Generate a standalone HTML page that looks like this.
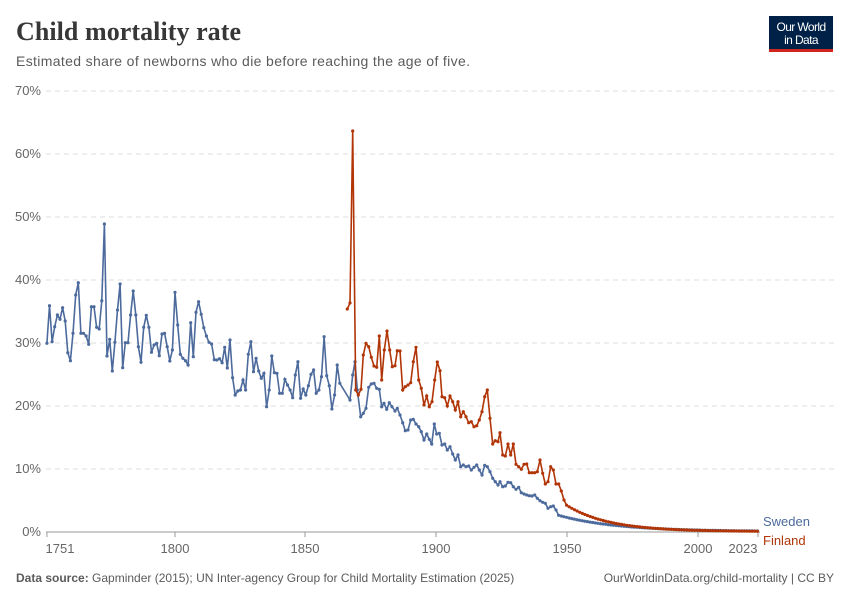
<!DOCTYPE html>
<html><head><meta charset="utf-8"><style>
body{margin:0;background:#fff;width:850px;height:600px;overflow:hidden;font-family:"Liberation Sans",sans-serif}
</style></head><body>
<svg width="850" height="600" xmlns="http://www.w3.org/2000/svg" font-family="Liberation Sans, sans-serif">
<text x="16" y="40" font-family="Liberation Serif, serif" font-size="26" font-weight="bold" fill="#373737" textLength="225">Child mortality rate</text>
<text x="16" y="66" font-size="14" fill="#5b5b5b" textLength="454">Estimated share of newborns who die before reaching the age of five.</text>
<rect x="769" y="16" width="64" height="34" fill="#002147"/>
<rect x="769" y="49" width="64" height="3" fill="#ce261e"/>
<text x="801" y="31" font-size="12" fill="#fff" text-anchor="middle" letter-spacing="-0.6">Our World</text>
<text x="801" y="44" font-size="12" fill="#fff" text-anchor="middle" letter-spacing="-0.6">in Data</text>
<g id="grid" stroke="#dddddd" stroke-dasharray="5,4" stroke-width="1"></g>
<g id="ylab" font-size="13" fill="#666" text-anchor="end"></g>
<line x1="46" y1="532" x2="760" y2="532" stroke="#999" stroke-width="1"/>
<g id="xlab" font-size="13" fill="#666" text-anchor="middle"></g>
<g id="series"></g>
<text x="763" y="526" font-size="13" fill="#4c6a9c">Sweden</text>
<text x="763" y="545" font-size="13" fill="#b13507">Finland</text>
<text x="16" y="582" font-size="12" fill="#5b5b5b"><tspan font-weight="bold">Data source:</tspan> Gapminder (2015); UN Inter-agency Group for Child Mortality Estimation (2025)</text>
<text x="834" y="582" font-size="12" fill="#5b5b5b" text-anchor="end">OurWorldinData.org/child-mortality | CC BY</text>
</svg>
<script>
var NS="http://www.w3.org/2000/svg";
function el(p,t,a,txt){var e=document.createElementNS(NS,t);for(var k in a)e.setAttribute(k,a[k]);if(txt)e.textContent=txt;document.getElementById(p).appendChild(e);}
for(var i=0;i<=7;i++){var y=532-63*i;if(i>0)el("grid","line",{x1:46,y1:y,x2:835,y2:y});el("ylab","text",{x:41,y:y+4},(i*10)+"%");}
[[1751,46.9,60],[1800,175,175],[1850,305,305],[1900,436,436],[1950,567,567],[2000,698,698],[2023,758,743]].forEach(function(d){
el("xlab","text",{x:d[2],y:553},d[0]);el("series","line",{x1:d[1],y1:532,x2:d[1],y2:537,stroke:"#999"});});
var z1=[400,287,395,350,315,328,293,333,428,452,370,255,218,370,370,378,403,290,290,352,357,272,42,438,388,483,397,300,222,473,398,398,315,243,315,410,457,352,316,352,427,405,400,437,372,370,410,453,420,247,345,433,445,452,465,338,440,307,275,313,353,378,397,402,449,450,446,458,412,474,390,503,555,543,540,510,540,433,395,485,445,483,505,490,590,540,438,488,490,550,550,508,525,540,563,495,455,565,537,555,527,493,480,550,540,500,380,497,527,597,555,465,520];
var sw=[];z1.forEach(function(v,i){sw.push([46.9+2.615*i,210+v/3]);});
var z2b=[[150,360],[158,285],[165,245],[172,330],[182,410],[190,400],[198,385],[206,322],[214,312],[222,310],[230,325],[238,328],[245,380],[252,370],[260,388],[268,368],[276,380],[285,393],[292,385],[300,405],[308,428],[316,452],[324,450],[332,420],[340,418],[348,432],[356,440],[364,455],[372,480],[380,462],[388,478],[395,492],[403,432],[410,462],[418,460],[426,495],[434,492],[442,510],[450,500],[458,522],[466,540],[474,525],[482,560],[490,555],[498,560],[506,558],[514,570],[522,562],[530,555],[538,570],[546,585],[554,556],[562,560],[570,575],[578,595],[586,605],[594,615],[600,605],[608,620],[616,618],[624,607],[632,608],[640,620],[648,628],[656,622],[664,638],[672,642],[680,645],[688,647],[696,648],[704,645],[712,655],[720,662],[728,667],[736,670],[744,685],[752,680],[760,678],[768,690]];
z2b.forEach(function(p){sw.push([300+p[0]/3,280+p[1]/3]);});
var lx=sw[sw.length-1][0];
for(var x=lx+2.615;x<=759;x+=2.615){var t=(x-556)/2.615;sw.push([x,531.5-17*Math.exp(-t/22)]);}
var z2r=[[167,330],[175,345],[183,328],[190,225],[198,190],[206,200],[214,232],[222,258],[230,262],[238,168],[245,300],[253,210],[261,153],[269,210],[277,260],[285,257],[292,212],[300,213],[308,330],[316,320],[324,315],[332,308],[340,245],[348,202],[356,300],[364,325],[372,375],[380,348],[388,380],[396,365],[404,300],[412,246],[420,272],[426,350],[434,353],[442,378],[450,348],[458,365],[466,390],[474,365],[482,410],[490,395],[498,410],[506,428],[514,425],[522,440],[530,437],[538,420],[546,395],[554,350],[562,330],[570,415],[578,492],[586,482],[594,485],[600,458],[608,525],[616,528],[624,492],[632,525],[640,492],[648,553],[656,560],[664,568],[672,553],[680,552],[688,578],[696,578],[704,578],[712,575],[720,540],[728,580],[736,612],[744,605],[752,560],[760,570],[768,612],[776,612],[784,633],[792,660]];
var fi=[[347.3,309],[350,303],[352.7,131]];
z2r.forEach(function(p){fi.push([300+p[0]/3,280+p[1]/3]);});
lx=fi[fi.length-1][0];
for(var x=lx+2.615;x<=759;x+=2.615){var t=(x-lx)/2.615;fi.push([x,531.5-28*Math.exp(-t/16)]);}
function draw(d,c){el("series","polyline",{points:d.map(function(p){return p[0].toFixed(1)+","+p[1].toFixed(1)}).join(" "),fill:"none",stroke:c,"stroke-width":1.6});
d.forEach(function(p){el("series","circle",{cx:p[0].toFixed(1),cy:p[1].toFixed(1),r:1.6,fill:c});});}
draw(sw,"#4c6a9c");draw(fi,"#b13507");
</script>
</body></html>
